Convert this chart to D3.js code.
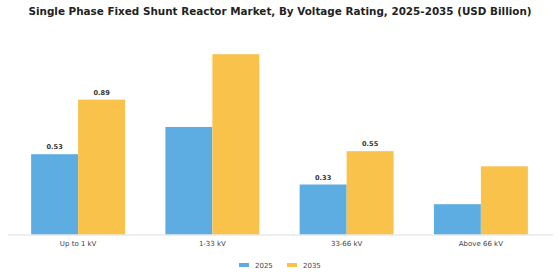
<!DOCTYPE html>
<html><head><meta charset="utf-8">
<script src="https://cdn.jsdelivr.net/npm/d3@7"></script>
<style>body{margin:0;background:#fff}svg{display:block}</style>
</head><body>
<svg id="c" width="560" height="280"></svg>
<script>
const title = "Single Phase Fixed Shunt Reactor Market, By Voltage Rating, 2025-2035 (USD Billion)";
const categories = ["Up to 1 kV", "1-33 kV", "33-66 kV", "Above 66 kV"];
const seriesNames = ["2025", "2035"];
const values2025 = [0.53, 0.71, 0.33, 0.20];
const values2035 = [0.89, 1.19, 0.55, 0.45];
const labels2025 = ["0.53", "", "0.33", ""];
const labels2035 = ["0.89", "", "0.55", ""];
const colors = ["#5DADE2", "#F8C24B"];

const svg = d3.select("#c");
const font = "DejaVu Sans, Verdana, sans-serif";
const baseY = 234.5;
const x0 = d3.scaleBand().domain(categories).range([11, 548]).paddingInner(0.3).paddingOuter(0.15);
const x1 = d3.scaleBand().domain(seriesNames).range([0, x0.bandwidth()]);
const y = d3.scaleLinear().domain([0, 1]).range([baseY, baseY - 151.5]);

svg.append("text").attr("x", 280).attr("y", 15).attr("text-anchor", "middle")
  .attr("font-family", font).attr("font-weight", "bold").attr("font-size", 10.4).attr("fill", "#222")
  .text(title);

const series = [values2025, values2035];
const labels = [labels2025, labels2035];
const g = svg.append("g");
categories.forEach((c, i) => {
  seriesNames.forEach((s, j) => {
    const v = series[j][i];
    g.append("rect").attr("x", x0(c) + x1(s)).attr("y", y(v))
      .attr("width", x1.bandwidth()).attr("height", y(0) - y(v)).attr("fill", colors[j]);
    if (labels[j][i]) {
      g.append("text").attr("x", x0(c) + x1(s) + x1.bandwidth() / 2).attr("y", y(v) - 5)
        .attr("text-anchor", "middle").attr("font-family", font).attr("font-weight", "bold")
        .attr("font-size", 6.6).attr("fill", "#333").text(labels[j][i]);
    }
  });
});

const axis = svg.append("g").attr("transform", `translate(0,${baseY})`)
  .call(d3.axisBottom(x0).tickSize(0).tickPadding(7));
axis.select(".domain").attr("stroke", "#ddd").attr("d", "M8,0.5H553");
axis.selectAll("text").attr("font-family", font).attr("font-size", 7).attr("fill", "#444");

const leg = svg.append("g");
const legX = [239, 287];
seriesNames.forEach((s, j) => {
  leg.append("rect").attr("x", legX[j]).attr("y", 263).attr("width", 10).attr("height", 4).attr("fill", colors[j]);
  leg.append("text").attr("x", legX[j] + 16).attr("y", 268).attr("font-family", font)
    .attr("font-size", 7).attr("fill", "#444").text(s);
});
</script>
</body></html>
